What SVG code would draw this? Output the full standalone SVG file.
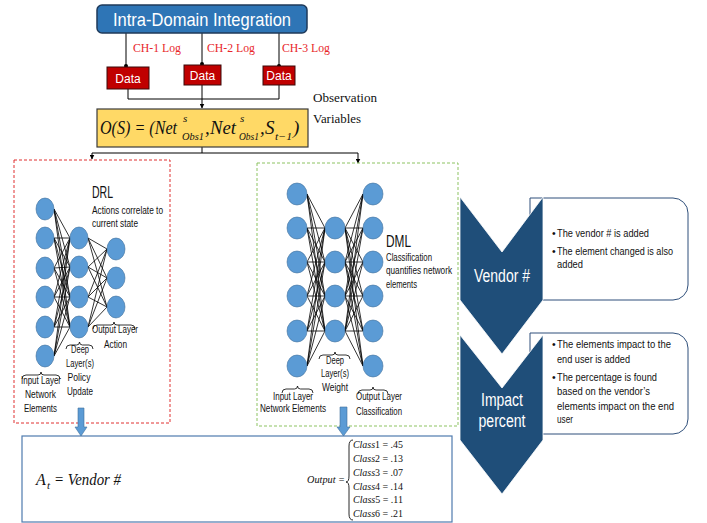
<svg xmlns="http://www.w3.org/2000/svg" width="707" height="523" viewBox="0 0 707 523">
<defs>
<style>
.sans{font-family:"Liberation Sans",Arial,sans-serif}
.serif{font-family:"Liberation Serif","Times New Roman",serif}
.math{font-family:"Liberation Serif","Times New Roman",serif;font-style:italic}
.node{fill:#5B9BD5;stroke:#41719C;stroke-width:0.6}
.wire{stroke:#000;stroke-width:0.8;fill:none}
.brace{stroke:#000;stroke-width:0.8;fill:none}
.lbl{font-family:"Liberation Sans",Arial,sans-serif;font-size:10px;fill:#111}
.ch{font-family:"Liberation Serif","Times New Roman",serif;font-size:13px;fill:#E8262A}
.bul{font-family:"Liberation Sans",Arial,sans-serif;font-size:10.5px;fill:#111}
.cls{font-family:"Liberation Serif","Times New Roman",serif;font-size:11px;fill:#111}
</style>
<marker id="ah" viewBox="0 0 10 10" refX="9" refY="5" markerWidth="5" markerHeight="5" orient="auto"><path d="M0,0 L10,5 L0,10 Z" fill="#000"/></marker>
</defs>
<rect width="707" height="523" fill="#fff"/>

<!-- connectors -->
<g id="connectors" stroke="#000" stroke-width="1" fill="none">
<path d="M126,33 V66 M202,33 V64 M279,33 V66"/>
<circle cx="126" cy="66" r="2" fill="#000" stroke="none"/>
<circle cx="202" cy="64" r="2" fill="#000" stroke="none"/>
<circle cx="279" cy="66" r="2" fill="#000" stroke="none"/>
<path d="M128,89 V99 H279 V85"/>
<path d="M202,85 V108" marker-end="url(#ah)"/>
<path d="M202,147 V153 M92,153 H358"/>
<path d="M92,153 V159" marker-end="url(#ah)"/>
<path d="M358,153 V163" marker-end="url(#ah)"/>
</g>

<!-- top -->
<g id="intra-domain">
<rect x="97" y="5" width="210" height="28" rx="5" fill="#2E75B6" stroke="#1F3A5A" stroke-width="1.5"/>
<text x="202" y="26" class="sans" font-size="19" fill="#fff" text-anchor="middle" textLength="178" lengthAdjust="spacingAndGlyphs">Intra-Domain Integration</text>
</g>
<g id="ch-labels">
<text x="133" y="52" class="ch" textLength="48" lengthAdjust="spacingAndGlyphs">CH-1 Log</text>
<text x="207" y="52" class="ch" textLength="48" lengthAdjust="spacingAndGlyphs">CH-2 Log</text>
<text x="282" y="52" class="ch" textLength="48" lengthAdjust="spacingAndGlyphs">CH-3 Log</text>
</g>
<g id="data1"><rect x="107" y="67" width="42" height="22" fill="#C00000" stroke="#3A0A0A" stroke-width="1"/><text x="128" y="82.5" class="sans" font-size="12" fill="#fff" text-anchor="middle">Data</text></g>
<g id="data2"><rect x="184" y="65" width="37" height="20" fill="#C00000" stroke="#3A0A0A" stroke-width="1"/><text x="202.5" y="79.5" class="sans" font-size="12" fill="#fff" text-anchor="middle">Data</text></g>
<g id="data3"><rect x="263" y="66" width="32" height="19" fill="#C00000" stroke="#3A0A0A" stroke-width="1"/><text x="279" y="80" class="sans" font-size="12" fill="#fff" text-anchor="middle">Data</text></g>

<g id="obs-label">
<text x="313" y="102" class="serif" font-size="13.5" fill="#111" textLength="64" lengthAdjust="spacingAndGlyphs">Observation</text>
<text x="313" y="123" class="serif" font-size="13.5" fill="#111" textLength="48" lengthAdjust="spacingAndGlyphs">Variables</text>
</g>

<g id="observation">
<rect x="97" y="109" width="211" height="38" fill="#FFD966" stroke="#3A3A3A" stroke-width="1.2"/>
<text x="100" y="134" class="math" font-size="19" fill="#111" textLength="77" lengthAdjust="spacingAndGlyphs">O(S) = (Net</text>
<text x="183" y="122" class="math" font-size="11" fill="#111">s</text>
<text x="182" y="140" class="math" font-size="11" fill="#111" textLength="22" lengthAdjust="spacingAndGlyphs">Obs1</text>
<text x="205" y="134" class="math" font-size="19" fill="#111">,</text>
<text x="210" y="134" class="math" font-size="19" fill="#111" textLength="26" lengthAdjust="spacingAndGlyphs">Net</text>
<text x="240" y="122" class="math" font-size="11" fill="#111">s</text>
<text x="239" y="140" class="math" font-size="11" fill="#111" textLength="20" lengthAdjust="spacingAndGlyphs">Obs1</text>
<text x="260" y="134" class="math" font-size="19" fill="#111">,</text>
<text x="265" y="134" class="math" font-size="19" fill="#111">S</text>
<text x="275" y="140" class="math" font-size="11" fill="#111" textLength="17" lengthAdjust="spacingAndGlyphs">t−1</text>
<text x="293" y="134" class="math" font-size="19" fill="#111">)</text>
</g>

<!-- DRL -->
<g id="drl">
<rect x="14" y="160" width="156" height="263" fill="none" stroke="#E03030" stroke-width="1" stroke-dasharray="3,2"/>
<path class="wire" d="M54,209L70,238M54,209L70,267M54,209L70,297M54,209L70,327M54,238L70,238M54,238L70,267M54,238L70,297M54,238L70,327M54,268L70,238M54,268L70,267M54,268L70,297M54,268L70,327M54,297L70,238M54,297L70,267M54,297L70,297M54,297L70,327M54,327L70,238M54,327L70,267M54,327L70,297M54,327L70,327M54,356L70,238M54,356L70,267M54,356L70,297M54,356L70,327"/>
<path class="wire" d="M88,238L107,249M88,238L107,278M88,238L107,307M88,267L107,249M88,267L107,278M88,267L107,307M88,297L107,249M88,297L107,278M88,297L107,307M88,327L107,249M88,327L107,278M88,327L107,307"/>
<ellipse class="node" cx="45" cy="209" rx="9" ry="11"/>
<ellipse class="node" cx="45" cy="238" rx="9" ry="11"/>
<ellipse class="node" cx="45" cy="268" rx="9" ry="11"/>
<ellipse class="node" cx="45" cy="297" rx="9" ry="11"/>
<ellipse class="node" cx="45" cy="327" rx="9" ry="11"/>
<ellipse class="node" cx="45" cy="356" rx="9" ry="11"/>
<ellipse class="node" cx="79" cy="238" rx="9" ry="11"/>
<ellipse class="node" cx="79" cy="267" rx="9" ry="11"/>
<ellipse class="node" cx="79" cy="297" rx="9" ry="11"/>
<ellipse class="node" cx="79" cy="327" rx="9" ry="11"/>
<ellipse class="node" cx="116" cy="249" rx="9" ry="11"/>
<ellipse class="node" cx="116" cy="278" rx="9" ry="11"/>
<ellipse class="node" cx="116" cy="307" rx="9" ry="11"/>
<text x="92" y="198" class="sans" font-size="16" fill="#111" textLength="21" lengthAdjust="spacingAndGlyphs">DRL</text>
<text x="92" y="214" class="lbl" textLength="71" lengthAdjust="spacingAndGlyphs">Actions correlate to</text>
<text x="92" y="227" class="lbl" textLength="46" lengthAdjust="spacingAndGlyphs">current state</text>
<path class="brace" d="M93,329 Q93,325 97,325 H111 Q114,325 114,322 Q114,325 117,325 H131 Q135,325 135,329"/>
<text x="115" y="333" class="lbl" text-anchor="middle" textLength="46" lengthAdjust="spacingAndGlyphs">Output Layer</text>
<text x="115.5" y="348" class="lbl" text-anchor="middle" textLength="23" lengthAdjust="spacingAndGlyphs">Action</text>
<path class="brace" d="M66,349 Q66,345 70,345 H76.5 Q79.5,345 79.5,342 Q79.5,345 82.5,345 H89 Q93,345 93,349"/>
<text x="80" y="353" class="lbl" text-anchor="middle" textLength="18" lengthAdjust="spacingAndGlyphs">Deep</text>
<text x="80" y="367" class="lbl" text-anchor="middle" textLength="28" lengthAdjust="spacingAndGlyphs">Layer(s)</text>
<text x="79" y="381" class="lbl" text-anchor="middle" textLength="23" lengthAdjust="spacingAndGlyphs">Policy</text>
<text x="80" y="395" class="lbl" text-anchor="middle" textLength="26" lengthAdjust="spacingAndGlyphs">Update</text>
<path class="brace" d="M22,379 Q22,375 26,375 H38 Q41,375 41,372 Q41,375 44,375 H56 Q60,375 60,379"/>
<text x="41" y="384" class="lbl" text-anchor="middle" textLength="40" lengthAdjust="spacingAndGlyphs">Input Layer</text>
<text x="40.5" y="398" class="lbl" text-anchor="middle" textLength="31" lengthAdjust="spacingAndGlyphs">Network</text>
<text x="40.5" y="412" class="lbl" text-anchor="middle" textLength="33" lengthAdjust="spacingAndGlyphs">Elements</text>
</g>

<!-- DML -->
<g id="dml">
<rect x="257" y="163" width="201" height="263" fill="none" stroke="#8DC363" stroke-width="1" stroke-dasharray="3,2"/>
<path class="wire" d="M307,194L325,228M307,194L325,262M307,194L325,296M307,194L325,331M307,228L325,228M307,228L325,262M307,228L325,296M307,228L325,331M307,262L325,228M307,262L325,262M307,262L325,296M307,262L325,331M307,296L325,228M307,296L325,262M307,296L325,296M307,296L325,331M307,331L325,228M307,331L325,262M307,331L325,296M307,331L325,331M307,366L325,228M307,366L325,262M307,366L325,296M307,366L325,331"/>
<path class="wire" d="M345,228L363,194M345,228L363,228M345,228L363,262M345,228L363,296M345,228L363,331M345,228L363,366M345,262L363,194M345,262L363,228M345,262L363,262M345,262L363,296M345,262L363,331M345,262L363,366M345,296L363,194M345,296L363,228M345,296L363,262M345,296L363,296M345,296L363,331M345,296L363,366M345,331L363,194M345,331L363,228M345,331L363,262M345,331L363,296M345,331L363,331M345,331L363,366"/>
<ellipse class="node" cx="297" cy="194" rx="10" ry="11"/>
<ellipse class="node" cx="297" cy="228" rx="10" ry="11"/>
<ellipse class="node" cx="297" cy="262" rx="10" ry="11"/>
<ellipse class="node" cx="297" cy="296" rx="10" ry="11"/>
<ellipse class="node" cx="297" cy="331" rx="10" ry="11"/>
<ellipse class="node" cx="297" cy="366" rx="10" ry="11"/>
<ellipse class="node" cx="335" cy="228" rx="10" ry="11"/>
<ellipse class="node" cx="335" cy="262" rx="10" ry="11"/>
<ellipse class="node" cx="335" cy="296" rx="10" ry="11"/>
<ellipse class="node" cx="335" cy="331" rx="10" ry="11"/>
<ellipse class="node" cx="373" cy="194" rx="10" ry="11"/>
<ellipse class="node" cx="373" cy="228" rx="10" ry="11"/>
<ellipse class="node" cx="373" cy="262" rx="10" ry="11"/>
<ellipse class="node" cx="373" cy="296" rx="10" ry="11"/>
<ellipse class="node" cx="373" cy="331" rx="10" ry="11"/>
<ellipse class="node" cx="373" cy="366" rx="10" ry="11"/>
<text x="386" y="247" class="sans" font-size="16" fill="#111" textLength="25" lengthAdjust="spacingAndGlyphs">DML</text>
<text x="386" y="261" class="lbl" textLength="46" lengthAdjust="spacingAndGlyphs">Classification</text>
<text x="386" y="274" class="lbl" textLength="66" lengthAdjust="spacingAndGlyphs">quantifies network</text>
<text x="386" y="288" class="lbl" textLength="31" lengthAdjust="spacingAndGlyphs">elements</text>
<path class="brace" d="M319,359 Q319,355 323,355 H332 Q335,355 335,352 Q335,355 338,355 H346 Q350,355 350,359"/>
<text x="335" y="364" class="lbl" text-anchor="middle" textLength="18" lengthAdjust="spacingAndGlyphs">Deep</text>
<text x="335" y="377" class="lbl" text-anchor="middle" textLength="28" lengthAdjust="spacingAndGlyphs">Layer(s)</text>
<text x="335" y="391" class="lbl" text-anchor="middle" textLength="26" lengthAdjust="spacingAndGlyphs">Weight</text>
<path class="brace" d="M282,393 Q282,389 286,389 H294.5 Q297.5,389 297.5,386 Q297.5,389 300.5,389 H309 Q313,389 313,393"/>
<text x="293" y="400" class="lbl" text-anchor="middle" textLength="40" lengthAdjust="spacingAndGlyphs">Input Layer</text>
<text x="293" y="412" class="lbl" text-anchor="middle" textLength="66" lengthAdjust="spacingAndGlyphs">Network Elements</text>
<path class="brace" d="M358,394 Q358,390 362,390 H370 Q373,390 373,387 Q373,390 376,390 H384 Q388,390 388,394"/>
<text x="379" y="400" class="lbl" text-anchor="middle" textLength="46" lengthAdjust="spacingAndGlyphs">Output Layer</text>
<text x="379" y="415" class="lbl" text-anchor="middle" textLength="46" lengthAdjust="spacingAndGlyphs">Classification</text>
</g>

<!-- bottom output box -->
<g id="output-box">
<rect x="22" y="436" width="430" height="86" fill="#fff" stroke="#4F7BAE" stroke-width="1.2"/>
<text x="36" y="485" class="math" font-size="16" fill="#111">A</text>
<text x="47" y="489" class="math" font-size="11" fill="#111">t</text>
<text x="54" y="485" class="math" font-size="16" fill="#111" textLength="67" lengthAdjust="spacingAndGlyphs">= Vendor #</text>
<text x="307" y="483" class="math" font-size="11" fill="#111" textLength="38" lengthAdjust="spacingAndGlyphs">Output =</text>
<path d="M353,440 Q349,440 349,446 V476 Q349,482 346,482 Q349,482 349,488 V514 Q349,520 353,520" fill="none" stroke="#111" stroke-width="0.9"/>
<text x="353" y="448" class="cls" textLength="50" lengthAdjust="spacingAndGlyphs"><tspan font-style="italic">Class</tspan>1 = .45</text>
<text x="353" y="462" class="cls" textLength="50" lengthAdjust="spacingAndGlyphs"><tspan font-style="italic">Class</tspan>2 = .13</text>
<text x="353" y="476" class="cls" textLength="50" lengthAdjust="spacingAndGlyphs"><tspan font-style="italic">Class</tspan>3 = .07</text>
<text x="353" y="490" class="cls" textLength="50" lengthAdjust="spacingAndGlyphs"><tspan font-style="italic">Class</tspan>4 = .14</text>
<text x="353" y="503" class="cls" textLength="50" lengthAdjust="spacingAndGlyphs"><tspan font-style="italic">Class</tspan>5 = .11</text>
<text x="353" y="517" class="cls" textLength="50" lengthAdjust="spacingAndGlyphs"><tspan font-style="italic">Class</tspan>6 = .21</text>
</g>

<!-- blue arrows -->
<g id="blue-arrows" fill="#5B9BD5" stroke="#41719C" stroke-width="0.6">
<path d="M78,408 H84 V427 H87 L81,436 L75,427 H78 Z"/>
<path d="M340,407 H347 V427 H350 L343.5,436 L337,427 H340 Z"/>
</g>

<!-- right callouts -->
<g id="vendor-box">
<path d="M530,198 H673 A15,15 0 0 1 688,213 V285 A15,15 0 0 1 673,300 H530 Z" fill="#fff" stroke="#2F4F7A" stroke-width="1"/>
<text x="552" y="237" class="bul">•</text>
<text x="557" y="237" class="bul" textLength="92" lengthAdjust="spacingAndGlyphs">The vendor # is added</text>
<text x="552" y="255" class="bul">•</text>
<text x="557" y="255" class="bul" textLength="116" lengthAdjust="spacingAndGlyphs">The element changed is also</text>
<text x="557" y="268" class="bul" textLength="26" lengthAdjust="spacingAndGlyphs">added</text>
</g>
<g id="impact-box">
<path d="M530,333 H673 A15,15 0 0 1 688,348 V419 A15,15 0 0 1 673,434 H530 Z" fill="#fff" stroke="#2F4F7A" stroke-width="1"/>
<g class="bul" font-size="11">
<text x="552" y="348">•</text>
<text x="557" y="348" textLength="114" lengthAdjust="spacingAndGlyphs">The elements impact to the</text>
<text x="557" y="363" textLength="73" lengthAdjust="spacingAndGlyphs">end user is added</text>
<text x="552" y="381">•</text>
<text x="557" y="381" textLength="100" lengthAdjust="spacingAndGlyphs">The percentage is found</text>
<text x="557" y="395" textLength="93" lengthAdjust="spacingAndGlyphs">based on the vendor’s</text>
<text x="557" y="410" textLength="117" lengthAdjust="spacingAndGlyphs">elements impact on the end</text>
<text x="557" y="423" textLength="16" lengthAdjust="spacingAndGlyphs">user</text>
</g>
</g>
<g id="vendor-chevron">
<path d="M460,197 L502,252 L543,197 V300 L502,354 L460,300 Z" fill="#1F4E79" stroke="#fff" stroke-width="0.8"/>
<text x="502" y="282" class="sans" font-size="18" fill="#fff" text-anchor="middle" textLength="56" lengthAdjust="spacingAndGlyphs">Vendor #</text>
</g>
<g id="impact-chevron">
<path d="M460,335 L502,388 L543,335 V440 L502,494 L460,440 Z" fill="#1F4E79" stroke="#fff" stroke-width="0.8"/>
<text x="502" y="406" class="sans" font-size="18" fill="#fff" text-anchor="middle" textLength="42" lengthAdjust="spacingAndGlyphs">Impact</text>
<text x="502" y="427" class="sans" font-size="18" fill="#fff" text-anchor="middle" textLength="47" lengthAdjust="spacingAndGlyphs">percent</text>
</g>
</svg>
